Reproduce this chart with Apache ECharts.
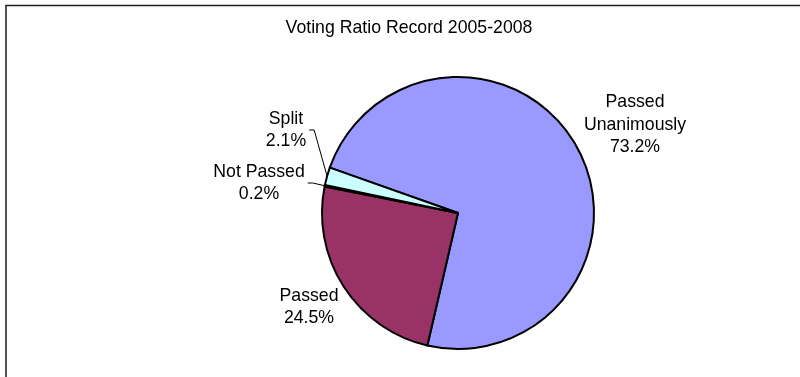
<!DOCTYPE html>
<html>
<head>
<meta charset="utf-8">
<script src="https://cdn.jsdelivr.net/npm/echarts@6/dist/echarts.min.js"></script>
<style>
html,body{margin:0;padding:0;background:#fff;}
#chart{width:800px;height:377px;}
</style>
</head>
<body>
<div id="chart"></div>
<script>
const titleText = 'Voting Ratio Record 2005-2008';
const categories = ['Passed Unanimously', 'Passed', 'Not Passed', 'Split'];
const values = [73.2, 24.5, 0.2, 2.1];
const colors = ['#9999FF', '#993366', '#FFFFCC', '#CCFFFF'];

// label block centres (layout only), and which labels get a leader line
const labelCenters = [[635, 125], [309, 307], [259, 183], [286, 130]];
const showLeader = [false, false, true, true];

const chart = echarts.init(document.getElementById('chart'), null, {renderer: 'canvas'});
const FONT = '"Liberation Sans", Arial, sans-serif';

chart.setOption({
  animation: false,
  backgroundColor: '#ffffff',
  graphic: [{
    type: 'rect',
    shape: {x: 6, y: 5.5, width: 1200, height: 1000},
    style: {fill: 'none', stroke: '#1a1a1a', lineWidth: 1.5},
    silent: true
  }],
  title: {
    text: titleText,
    left: 409,
    top: 18,
    padding: 0,
    textAlign: 'center',
    textStyle: {fontFamily: FONT, fontSize: 17.7, fontWeight: 'normal', color: '#000', lineHeight: 20}
  },
  series: [{
    type: 'pie',
    center: [458, 213],
    radius: 136,
    startAngle: 160.5,
    clockwise: true,
    avoidLabelOverlap: false,
    itemStyle: {borderColor: '#000', borderWidth: 2},
    label: {
      show: true,
      position: 'outside',
      fontFamily: FONT,
      fontSize: 17.7,
      lineHeight: 22.5,
      color: '#000',
      align: 'center',
      formatter: function (p) {
        const nm = p.name.length > 11 ? p.name.replace(' ', '\n') : p.name;
        return nm + '\n' + p.value.toFixed(1) + '%';
      }
    },
    labelLine: {show: true, length: 10, length2: 10, smooth: false, lineStyle: {color: '#000', width: 1}},
    labelLayout: function (p) {
      const i = p.dataIndex;
      const c = labelCenters[i];
      const out = {x: c[0], y: c[1], align: 'center', verticalAlign: 'middle'};
      if (showLeader[i] && p.labelLinePoints && p.labelRect) {
        const right = c[0] + p.labelRect.width / 2;
        const anchor = p.labelLinePoints[0];
        out.labelLinePoints = [[right + 3, c[1]], [right + 8, c[1]], [anchor[0], anchor[1]]];
      }
      return out;
    },
    emphasis: {disabled: true},
    data: categories.map(function (n, i) {
      return {
        name: n,
        value: values[i],
        itemStyle: {color: colors[i]},
        labelLine: {show: showLeader[i]}
      };
    })
  }]
});
</script>
</body>
</html>
